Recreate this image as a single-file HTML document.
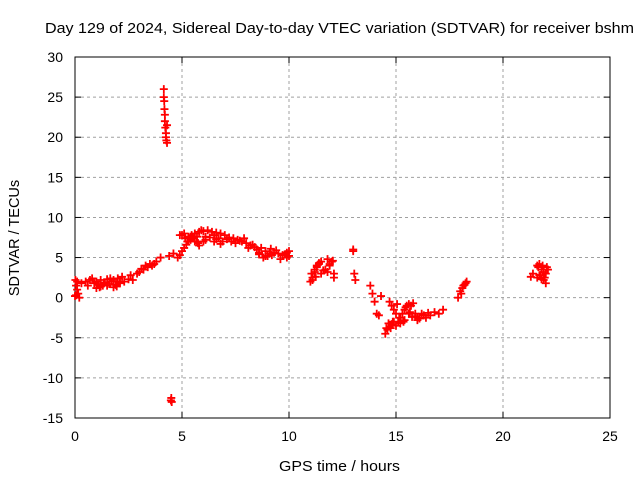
<!DOCTYPE html>
<html><head><meta charset="utf-8"><style>
body{margin:0;background:#fff}
svg{display:block;font-family:"Liberation Sans",sans-serif}
</style></head><body>
<svg id="chart" width="640" height="480" viewBox="0 0 640 480">
<rect width="640" height="480" fill="#fff"/>
<text x="45" y="33" font-size="14.5" textLength="589" lengthAdjust="spacingAndGlyphs">Day 129 of 2024, Sidereal Day-to-day VTEC variation (SDTVAR) for receiver bshm</text>
<g id="grid"></g>
<g id="axes"></g>
<g id="marks"></g>
<text x="279" y="471" font-size="14.5" textLength="121" lengthAdjust="spacingAndGlyphs">GPS time / hours</text>
<text transform="translate(19,238) rotate(-90)" font-size="14.5" text-anchor="middle">SDTVAR / TECUs</text>
</svg>
<script>
const xTicks=[0,5,10,15,20,25];
const yTicks=[30,25,20,15,10,5,0,-5,-10,-15];
const times=[0,0.05,0.1,0.15,0.2,0.1,0.05,0.02,
0.3,0.5,0.7,0.9,1.0,1.1,1.2,1.3,1.4,1.5,1.6,1.7,1.8,1.9,2.0,2.1,
1.0,1.2,1.5,1.8,2.1,2.3,2.5,2.7,2.9,3.0,3.2,3.4,3.5,3.6,3.8,4.0,
4.15,4.15,4.17,4.18,4.2,4.2,4.22,4.25,4.25,4.27,4.3,4.3,
4.4,4.6,4.8,4.48,4.5,4.52,
4.9,5.0,5.1,5.2,5.3,5.4,5.5,4.9,5.1,5.3,5.5,5.7,
5.6,5.8,6.0,6.2,6.4,6.6,6.8,7.0,5.8,6.0,6.3,6.6,6.9,
7.2,7.4,7.6,7.8,8.0,8.2,8.4,7.3,7.7,
8.5,8.7,8.9,9.1,9.3,8.6,8.8,9.0,9.2,
9.5,9.7,9.9,10.0,9.6,9.9,
11.0,11.1,11.2,11.3,11.4,11.5,11.1,11.3,11.5,11.2,
11.7,11.8,12.0,12.1,12.1,11.9,11.8,
13.0,13.0,13.05,13.1,
13.8,13.9,14.0,14.1,14.2,14.3,
14.5,14.6,14.7,14.8,14.9,15.0,14.7,14.8,14.9,15.0,15.1,
15.2,15.3,15.4,15.5,15.2,15.4,15.6,
15.6,15.7,15.8,15.9,16.0,15.9,16.0,
16.2,16.4,16.6,16.8,17.0,17.2,
17.9,18.0,18.1,18.2,18.3,
21.3,21.4,21.6,21.7,21.8,21.9,22.0,22.1,21.6,21.8,22.0,21.7,21.9,
0.6,0.8,1.15,1.35,1.65,1.95,2.2,2.6,3.1,3.3,3.7,
5.0,5.15,5.25,5.45,5.6,5.75,5.9,6.1,6.5,6.7,7.1,7.5,7.9,8.1,8.3,
5.4,5.7,6.1,6.5,6.8,8.6,8.9,9.15,9.4,9.8,10.0,
11.05,11.25,11.4,11.6,11.9,12.05,
14.55,14.65,14.75,14.85,15.05,15.15,15.35,15.45,15.65,15.75,16.1,16.3,16.5,
18.05,18.15,18.25,21.65,21.75,21.85,21.95,22.05];
const values=[0.2,1.5,2.0,0.5,0,1.0,0.3,2.2,
1.8,2.0,2.2,1.8,2.0,1.6,2.2,1.5,1.9,2.3,1.7,2.0,2.2,1.6,2.4,2.0,
1.2,1.4,1.5,1.3,1.8,2.0,2.3,2.2,3.0,3.2,3.5,3.8,4.2,4.0,4.5,5.0,
26,25,24.5,23.5,22.8,22,21.2,20.5,20,19.6,19.3,21.5,
5.2,5.5,5.0,-12.8,-12.5,-13,
5.3,5.8,6.2,6.6,7.0,7.2,7.5,7.8,8.0,7.6,7.4,7.6,
8.0,8.2,8.3,8.4,8.2,8.1,8.0,7.8,6.5,7.0,7.5,7.3,7.0,
7.5,7.4,7.2,7.0,6.8,6.5,6.3,7.0,7.1,
6.0,6.2,5.8,5.5,5.6,5.4,5.0,5.2,5.3,
5.5,5.3,5.0,5.2,4.8,5.6,
2.0,2.5,3.5,4.0,4.3,3.0,2.2,3.8,4.5,3.2,
3.5,4.8,4.5,3.0,2.5,4.0,3.2,
5.8,6.0,3.0,2.2,
1.5,0.5,-0.5,-2.0,-2.2,0.2,
-4.5,-4.0,-3.6,-3.3,-3.0,-3.5,-0.5,-1.0,-1.5,-2.0,-3.0,
-2.5,-2.0,-1.5,-1.0,-3.2,-2.8,-2.0,
-0.8,-1.0,-0.7,-2.3,-2.5,-2.0,-2.8,
-2.0,-2.5,-2.2,-1.8,-2.0,-1.5,
0,0.8,1.2,1.6,2.0,
2.6,3.0,4.0,4.2,3.5,3.2,3.0,3.5,2.5,2.3,1.8,2.8,2.2,
1.5,2.4,1.3,1.8,2.4,1.4,2.6,2.8,3.6,4.0,4.2,
7.8,7.4,7.0,7.8,7.0,6.8,8.4,7.6,7.8,7.4,7.3,6.8,7.4,6.2,6.6,
7.6,7.0,7.2,7.0,6.7,5.6,5.2,6.1,5.9,5.4,5.8,
3.0,2.6,4.2,3.4,4.2,4.6,
-3.8,-3.2,-3.8,-3.0,-0.8,-2.5,-3.0,-1.2,-1.8,-2.4,-2.6,-2.2,-1.9,
0.5,1.5,1.8,3.8,2.8,4.0,2.5,3.8];
const L=75,R=610,T=57,B=418;
const xs=t=>L+(t-0)/25*(R-L);
const ys=v=>B-(v+15)/45*(B-T);
const NS="http://www.w3.org/2000/svg";
const grid=document.getElementById('grid'),axes=document.getElementById('axes'),marks=document.getElementById('marks');
function mk(tag,attrs,parent){const e=document.createElementNS(NS,tag);for(const k in attrs)e.setAttribute(k,attrs[k]);parent.appendChild(e);return e;}
xTicks.forEach(t=>{const x=xs(t);
 if(t>0&&t<25){const g=mk('line',{x1:x,x2:x,y1:T,y2:B,stroke:'#a0a0a0','stroke-dasharray':'3,3'},grid);
 
 }
 mk('line',{x1:x,x2:x,y1:B,y2:B-6,stroke:'#000'},axes);
 mk('line',{x1:x,x2:x,y1:T,y2:T+6,stroke:'#000'},axes);
 const tx=mk('text',{x:x,y:B+23,'font-size':14,'text-anchor':'middle'},axes);tx.textContent=t;
 
 });
yTicks.forEach(v=>{const y=ys(v);
 if(v>-15&&v<30){const g=mk('line',{x1:L,x2:R,y1:y,y2:y,stroke:'#a0a0a0','stroke-dasharray':'3,3'},grid);
 
 }
 mk('line',{x1:L,x2:L+6,y1:y,y2:y,stroke:'#000'},axes);
 mk('line',{x1:R,x2:R-6,y1:y,y2:y,stroke:'#000'},axes);
 const tx=mk('text',{x:L-12,y:y+5,'font-size':14,'text-anchor':'end'},axes);tx.textContent=v;
 
 });
mk('rect',{x:L,y:T,width:R-L,height:B-T,fill:'none',stroke:'#000'},axes);
times.forEach((t,i)=>{const x=xs(t),y=ys(values[i]);
 const p=mk('path',{d:`M${x-4} ${y}H${x+4}M${x} ${y-4}V${y+4}`,stroke:'#f00','stroke-width':1.8},marks);
 
 });
</script>
</body></html>
